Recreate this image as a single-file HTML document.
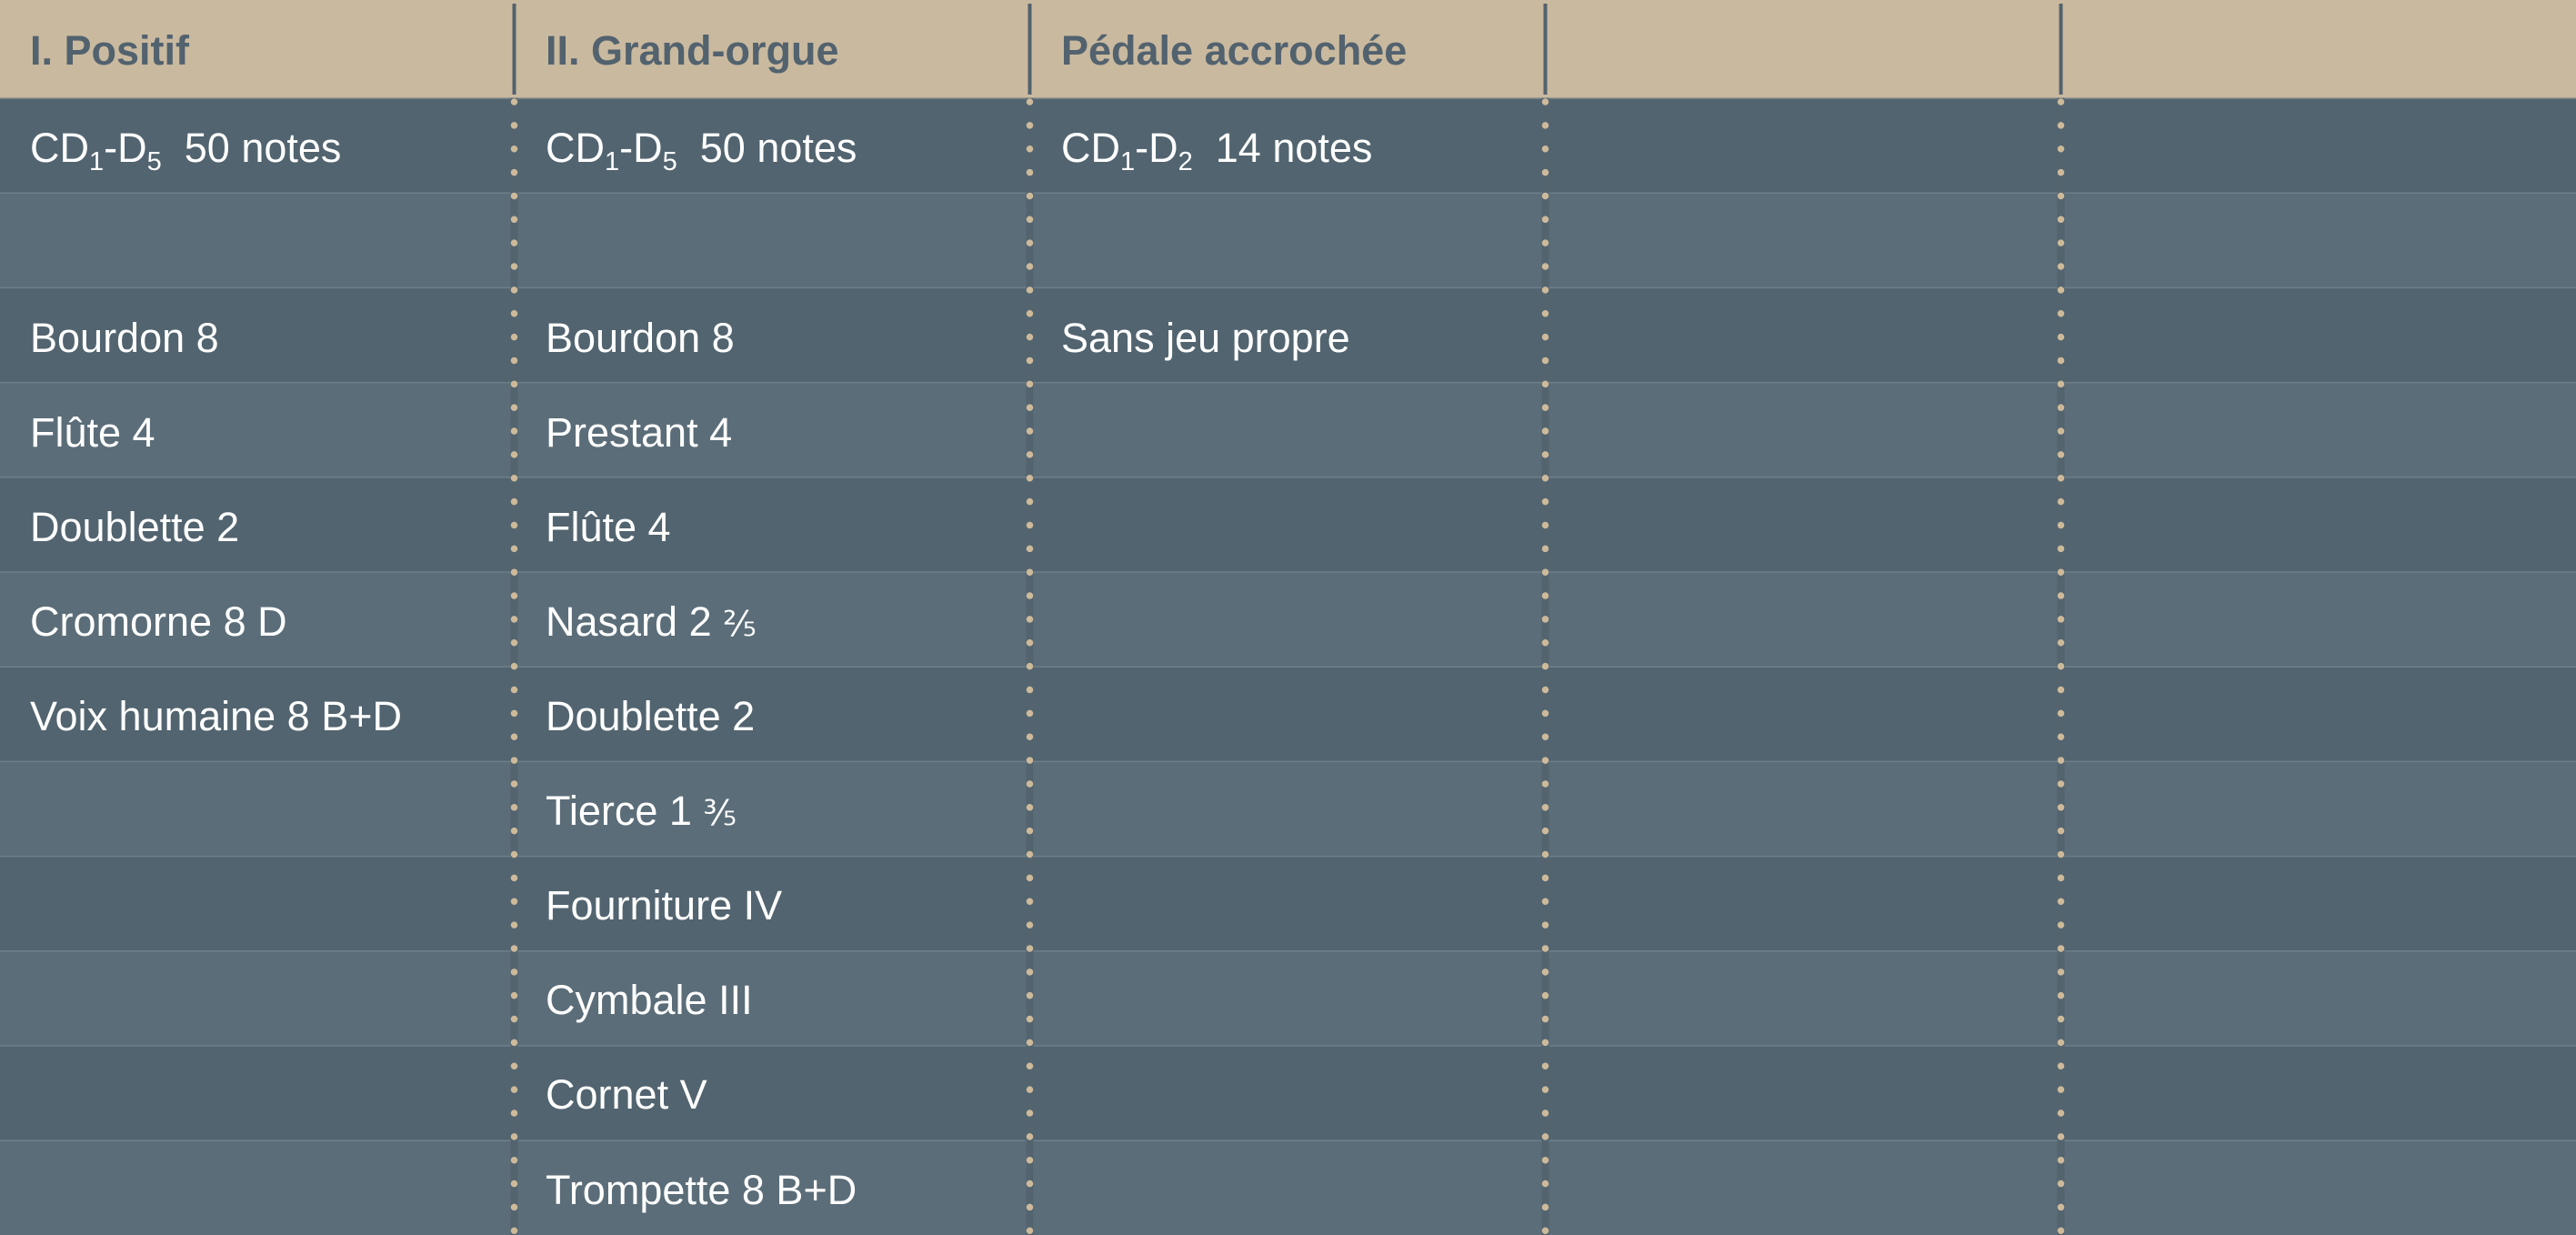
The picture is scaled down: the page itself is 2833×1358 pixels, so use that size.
<!DOCTYPE html>
<html><head><meta charset="utf-8"><style>
html,body{margin:0;padding:0;background:#52646f;}
svg{display:block;}
text{font-family:"Liberation Sans",sans-serif;}
</style></head><body>
<svg width="2833" height="1358" viewBox="0 0 2833 1358" xmlns="http://www.w3.org/2000/svg">
<rect x="0" y="0" width="2833" height="108" fill="#c9b99f"/>
<g id="rows">
<rect x="0" y="108" width="2833" height="104.2" fill="#52646f"/>
<rect x="0" y="212.2" width="2833" height="104.2" fill="#5b6d78"/>
<rect x="0" y="316.4" width="2833" height="104.2" fill="#52646f"/>
<rect x="0" y="420.6" width="2833" height="104.2" fill="#5b6d78"/>
<rect x="0" y="524.8" width="2833" height="104.2" fill="#52646f"/>
<rect x="0" y="629" width="2833" height="104.2" fill="#5b6d78"/>
<rect x="0" y="733.2" width="2833" height="104.2" fill="#52646f"/>
<rect x="0" y="837.4" width="2833" height="104.2" fill="#5b6d78"/>
<rect x="0" y="941.6" width="2833" height="104.2" fill="#52646f"/>
<rect x="0" y="1045.8" width="2833" height="104.2" fill="#5b6d78"/>
<rect x="0" y="1150" width="2833" height="104.2" fill="#52646f"/>
<rect x="0" y="1254.2" width="2833" height="104" fill="#5b6d78"/>
</g>
<g stroke="#6d7f8a" stroke-width="1.5">
<line x1="0" y1="108" x2="2833" y2="108" stroke="#8a8f8c"/>
<line x1="0" y1="212.2" x2="2833" y2="212.2"/><line x1="0" y1="316.4" x2="2833" y2="316.4"/>
<line x1="0" y1="420.6" x2="2833" y2="420.6"/><line x1="0" y1="524.8" x2="2833" y2="524.8"/>
<line x1="0" y1="629" x2="2833" y2="629"/><line x1="0" y1="733.2" x2="2833" y2="733.2"/>
<line x1="0" y1="837.4" x2="2833" y2="837.4"/><line x1="0" y1="941.6" x2="2833" y2="941.6"/>
<line x1="0" y1="1045.8" x2="2833" y2="1045.8"/><line x1="0" y1="1150" x2="2833" y2="1150"/>
<line x1="0" y1="1254.2" x2="2833" y2="1254.2"/>
</g>
<g fill="#53646f">
<rect x="561.5" y="108" width="8" height="1250"/>
<rect x="1128.5" y="108" width="8" height="1250"/>
<rect x="1695.5" y="108" width="8" height="1250"/>
<rect x="2262.5" y="108" width="8" height="1250"/>
</g>
<g stroke="#cdba9a" stroke-width="7.5" stroke-linecap="round" stroke-dasharray="0 25.86">
<line x1="565.5" y1="112" x2="565.5" y2="1362"/>
<line x1="1132.5" y1="112" x2="1132.5" y2="1362"/>
<line x1="1699.5" y1="112" x2="1699.5" y2="1362"/>
<line x1="2266.5" y1="112" x2="2266.5" y2="1362"/>
</g>
<g fill="#52626e">
<rect x="563.5" y="4" width="4" height="100"/>
<rect x="1130.5" y="4" width="4" height="100"/>
<rect x="1697.5" y="4" width="4" height="100"/>
<rect x="2264.5" y="4" width="4" height="100"/>
</g>
<g font-weight="bold" font-size="45" fill="#52626e">
<text x="33" y="71">I. Positif</text>
<text x="600" y="71">II. Grand-orgue</text>
<text x="1167" y="71">Pédale accrochée</text>
</g>
<g font-size="45" fill="#ffffff">
<text x="33" y="178">CD<tspan font-size="29" dy="9">1</tspan><tspan dy="-9">-D</tspan><tspan font-size="29" dy="9">5</tspan><tspan dy="-9">&#160; 50 notes</tspan></text>
<text x="33" y="387">Bourdon 8</text>
<text x="33" y="491">Flûte 4</text>
<text x="33" y="595">Doublette 2</text>
<text x="33" y="699">Cromorne 8 D</text>
<text x="33" y="803">Voix humaine 8 B+D</text>

<text x="600" y="178">CD<tspan font-size="29" dy="9">1</tspan><tspan dy="-9">-D</tspan><tspan font-size="29" dy="9">5</tspan><tspan dy="-9">&#160; 50 notes</tspan></text>
<text x="600" y="387">Bourdon 8</text>
<text x="600" y="491">Prestant 4</text>
<text x="600" y="595">Flûte 4</text>
<text x="600" y="699">Nasard 2 <tspan font-family="DejaVu Sans" font-size="38">⅖</tspan></text>
<text x="600" y="803">Doublette 2</text>
<text x="600" y="907">Tierce 1 <tspan font-family="DejaVu Sans" font-size="38">⅗</tspan></text>
<text x="600" y="1011">Fourniture IV</text>
<text x="600" y="1115">Cymbale III</text>
<text x="600" y="1219">Cornet V</text>
<text x="600" y="1324">Trompette 8 B+D</text>

<text x="1167" y="178">CD<tspan font-size="29" dy="9">1</tspan><tspan dy="-9">-D</tspan><tspan font-size="29" dy="9">2</tspan><tspan dy="-9">&#160; 14 notes</tspan></text>
<text x="1167" y="387">Sans jeu propre</text>
</g>
</svg>
</body></html>
